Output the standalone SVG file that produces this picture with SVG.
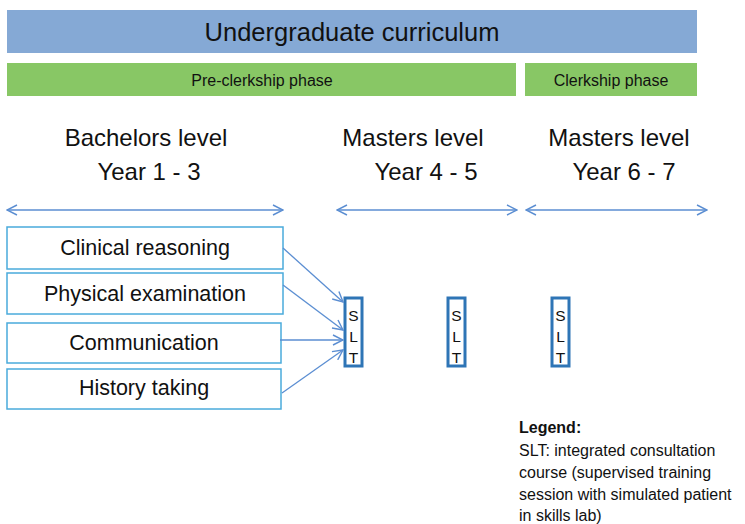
<svg xmlns="http://www.w3.org/2000/svg" width="745" height="524" viewBox="0 0 745 524">
<defs>
<style>
text{font-family:"Liberation Sans",Arial,sans-serif;fill:#111;}
.head{font-size:24px;text-anchor:middle;}
.skill{font-size:21.5px;text-anchor:middle;}
.phase{font-size:16px;text-anchor:middle;}
.slt{font-size:15.5px;text-anchor:middle;}
.legend{font-size:16px;}
.box{fill:#fff;stroke:#4AABDB;stroke-width:1.5;}
.sltbox{fill:#fff;stroke:#2E75B6;stroke-width:3;}
.span{stroke:#5B8ED2;stroke-width:1.5;fill:none;marker-start:url(#openv);marker-end:url(#openv);}
.conn{stroke:#5B8ED2;stroke-width:1.3;fill:none;marker-end:url(#openv);}
</style>
<marker id="openv" viewBox="0 0 12 12" refX="11" refY="6" markerWidth="12" markerHeight="12" markerUnits="userSpaceOnUse" orient="auto-start-reverse">
<path d="M1,1 L11,6 L1,11" fill="none" stroke="#5B8ED2" stroke-width="1.4"/>
</marker>
</defs>
<rect width="745" height="524" fill="#fff"/>
<g id="curriculum">
<rect x="7" y="10" width="690" height="43" fill="#85A9D5"/>
<text x="352" y="41" style="font-size:25.5px;text-anchor:middle">Undergraduate curriculum</text>
</g>
<g id="preclerkship">
<rect x="7" y="63" width="509" height="33" fill="#88C765"/>
<text class="phase" x="262" y="86">Pre-clerkship phase</text>
</g>
<g id="clerkship">
<rect x="525" y="63" width="172" height="33" fill="#88C765"/>
<text class="phase" x="611" y="86">Clerkship phase</text>
</g>
<g id="bachelors">
<text class="head" x="146" y="146">Bachelors level</text>
<text class="head" x="149" y="180">Year 1 - 3</text>
</g>
<g id="masters1">
<text class="head" x="413" y="146">Masters level</text>
<text class="head" x="426" y="180">Year 4 - 5</text>
</g>
<g id="masters2">
<text class="head" x="619" y="146">Masters level</text>
<text class="head" x="624" y="180">Year 6 - 7</text>
</g>
<g id="clinical">
<rect class="box" x="7" y="227" width="276" height="42"/>
<text class="skill" x="145" y="255">Clinical reasoning</text>
</g>
<g id="physical">
<rect class="box" x="7" y="273" width="276" height="41"/>
<text class="skill" x="145" y="301">Physical examination</text>
</g>
<g id="communication">
<rect class="box" x="7" y="323" width="274" height="40"/>
<text class="skill" x="144" y="350">Communication</text>
</g>
<g id="history">
<rect class="box" x="7" y="369" width="274" height="40"/>
<text class="skill" x="144" y="395">History taking</text>
</g>
<g id="slt1">
<rect class="sltbox" x="345" y="298" width="17" height="68"/>
<text class="slt" x="353.5" y="321">S</text>
<text class="slt" x="353.5" y="342">L</text>
<text class="slt" x="353.5" y="363">T</text>
</g>
<g id="slt2">
<rect class="sltbox" x="448" y="298" width="17" height="68"/>
<text class="slt" x="456.5" y="321">S</text>
<text class="slt" x="456.5" y="342">L</text>
<text class="slt" x="456.5" y="363">T</text>
</g>
<g id="slt3">
<rect class="sltbox" x="552" y="298" width="17" height="68"/>
<text class="slt" x="560.5" y="321">S</text>
<text class="slt" x="560.5" y="342">L</text>
<text class="slt" x="560.5" y="363">T</text>
</g>
<g id="legend">
<text class="legend" x="519" y="433" style="font-weight:bold">Legend:</text>
<text class="legend" x="519" y="456">SLT: integrated consultation</text>
<text class="legend" x="519" y="478">course (supervised training</text>
<text class="legend" x="519" y="500">session with simulated patient</text>
<text class="legend" x="519" y="521">in skills lab)</text>
</g>
<g id="connectors">
<line class="span" x1="7" y1="210" x2="283" y2="210"/>
<line class="span" x1="337" y1="210" x2="517" y2="210"/>
<line class="span" x1="526" y1="210" x2="707" y2="210"/>
<line class="conn" x1="283" y1="248" x2="343" y2="302"/>
<line class="conn" x1="283" y1="285" x2="343" y2="330"/>
<line class="conn" x1="280" y1="340" x2="343" y2="340"/>
<line class="conn" x1="282" y1="393" x2="343" y2="350"/>
</g>
</svg>
